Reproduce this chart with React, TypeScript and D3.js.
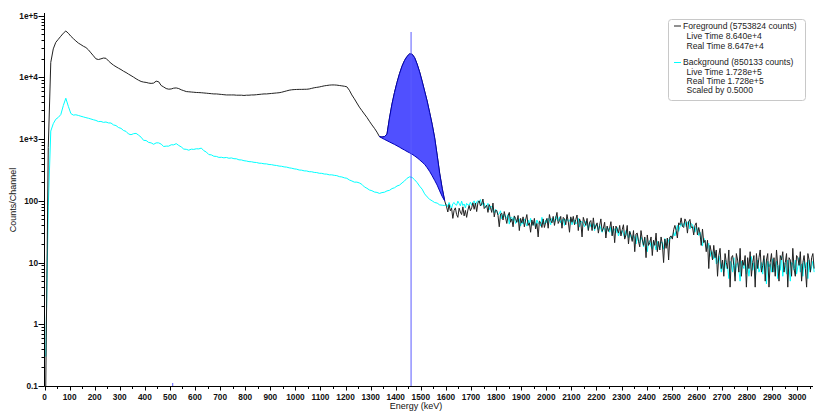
import React from 'react';
import * as d3 from 'd3';

// 0–1600 keV in 10 keV bins, 1600 keV onward in 5 keV bins
const LOW_BIN_KEV = 10;
const HIGH_BIN_KEV = 5;
const HIGH_START_KEV = 1600;

const foregroundLow = [
  0.1, 730, 17500, 29000, 37000, 41500, 46500, 52000, 56500, 52000,
  46500, 42500, 39000, 36000, 34000, 32000, 30500, 28000, 25000, 22400,
  20000, 19500, 20000, 20600, 20400, 18500, 17000, 15800, 14900, 14100,
  13400, 12600, 12000, 11300, 10700, 10100, 9500, 9000, 8600, 8400,
  8300, 8100, 8000, 8100, 8700, 8500, 7400, 7000, 6600, 6450,
  6500, 6700, 6750, 6600, 6300, 6100, 5900, 5850, 5800, 5750,
  5700, 5680, 5650, 5600, 5550, 5500, 5450, 5400, 5400, 5350,
  5300, 5250, 5200, 5200, 5200, 5200, 5150, 5150, 5150, 5100,
  5150, 5150, 5200, 5200, 5250, 5300, 5350, 5400, 5400, 5450,
  5500, 5550, 5600, 5650, 5750, 5900, 6050, 6200, 6300, 6350,
  6380, 6400, 6400, 6420, 6430, 6500, 6650, 6800, 6900, 7000,
  7150, 7300, 7400, 7500, 7550, 7550, 7500, 7400, 7300, 7200,
  7050, 6200, 5200, 4500, 3850, 3300, 2900, 2550, 2250, 1950,
  1700, 1500, 1300, 1100, 1080, 1100, 1200, 2200, 3700, 5700,
  8300, 11500, 15200, 18800, 21900, 24000, 23800, 21000, 16500, 12300,
  8700, 6000, 4150, 2700, 1740, 1050, 550, 280, 160, 100
];

const foregroundHigh = [
  80, 66, 87, 69, 76, 52, 70, 77, 60, 54, 76, 66, 60, 80, 57, 70, 54, 71, 84, 69,
  77, 93, 73, 92, 67, 93, 100, 83, 89, 107, 75, 80, 85, 65, 87, 78, 65, 92, 55, 70,
  70, 58, 38, 61, 63, 49, 67, 54, 43, 57, 65, 45, 51, 38, 57, 52, 45, 58, 33, 52,
  44, 55, 38, 49, 60, 40, 44, 31, 49, 40, 52, 35, 43, 26, 47, 45, 37, 51, 37, 45,
  52, 36, 60, 48, 44, 56, 40, 52, 65, 43, 48, 56, 36, 54, 51, 41, 60, 46, 31, 55,
  45, 56, 41, 50, 59, 33, 51, 45, 26, 54, 46, 40, 52, 33, 45, 48, 33, 53, 35, 39,
  44, 30, 40, 51, 32, 36, 45, 25, 39, 32, 36, 46, 27, 39, 21, 39, 35, 30, 40, 27,
  34, 41, 24, 28, 40, 20, 32, 28, 22, 33, 15, 29, 30, 22, 18, 33, 24, 19, 26, 12,
  28, 19, 21, 26, 13, 23, 19, 30, 15, 22, 16, 26, 20, 10, 24, 17, 25, 11, 26, 27,
  24, 34, 40, 33, 25, 44, 41, 53, 39, 37, 51, 46, 30, 46, 50, 37, 38, 28, 40, 44,
  28, 37, 30, 19, 35, 21, 23, 15, 23, 8, 19, 15, 11, 19, 12, 16, 6, 13, 17, 8,
  11, 6, 14, 10, 8, 16, 4, 12, 13, 9, 5, 14, 11, 7, 17, 6, 11, 9, 13, 4,
  12, 8, 15, 6, 10, 13, 4, 14, 8, 12, 16, 7, 9, 13, 5, 11, 14, 4, 10, 14,
  7, 12, 6, 16, 9, 5, 13, 11, 15, 7, 10, 14, 4, 12, 11, 6, 17, 8, 6, 13,
  12, 9, 15, 5, 10, 13, 8, 4, 14, 11, 7, 12, 14, 8
];

const backgroundLow = [
  0.3, 80, 1350, 1780, 2100, 2250, 2500, 3500, 4600, 3400,
  2600, 2450, 2480, 2420, 2350, 2290, 2230, 2180, 2120, 2060,
  2010, 1925, 1935, 1870, 1895, 1830, 1825, 1700, 1660, 1540,
  1495, 1380, 1335, 1210, 1180, 1225, 1240, 1160, 1075, 955,
  950, 885, 870, 825, 870, 870, 830, 760, 770, 770,
  810, 808, 845, 790, 748, 690, 684, 662, 688, 682,
  698, 695, 716, 650, 618, 562, 556, 528, 525, 506,
  508, 498, 505, 490, 496, 482, 480, 462, 460, 447,
  442, 432, 430, 421, 418, 408, 406, 398, 397, 388,
  386, 378, 374, 366, 363, 355, 352, 343, 338, 330,
  326, 316, 314, 306, 305, 297, 296, 289, 287, 280,
  279, 272, 271, 264, 264, 259, 256, 247, 244, 236,
  232, 218, 210, 201, 201, 195, 185, 168, 160, 150,
  146, 139, 137, 132, 136, 138, 145, 148, 158, 163,
  174, 180, 195, 210, 232, 245, 240, 220, 198, 173,
  155, 130, 116, 106, 100, 94, 92, 86, 85, 84
];

const backgroundHigh = [
  88, 80, 94, 83, 76, 90, 94, 87, 85, 99, 91, 83, 99, 84, 89, 77, 91, 86, 85, 95,
  85, 93, 100, 85, 96, 101, 92, 105, 84, 93, 92, 77, 83, 91, 72, 81, 81, 71, 64, 73,
  68, 60, 62, 69, 51, 59, 61, 53, 53, 60, 42, 54, 54, 47, 56, 43, 45, 50, 51, 39,
  47, 42, 51, 45, 39, 49, 42, 52, 40, 45, 46, 37, 49, 43, 45, 39, 54, 43, 42, 49,
  44, 52, 49, 41, 52, 47, 45, 56, 50, 47, 55, 44, 47, 51, 40, 50, 51, 46, 47, 53,
  41, 48, 49, 42, 45, 52, 38, 46, 46, 42, 38, 47, 42, 34, 45, 38, 39, 43, 33, 41,
  39, 34, 41, 35, 31, 37, 35, 29, 38, 35, 31, 38, 28, 35, 35, 30, 37, 27, 31, 30,
  33, 29, 25, 33, 29, 25, 32, 26, 23, 28, 25, 20, 28, 22, 21, 26, 23, 18, 25, 20,
  15, 21.5, 22.5, 18, 16.5, 23, 19.5, 16, 22, 18.5, 17.5, 21.5, 21, 16.5, 24.5, 20, 19, 23.5, 24, 26,
  25, 31, 27, 33, 40, 32, 38, 44, 38, 42, 46, 38, 44, 47, 35, 43, 41, 36, 31, 38,
  33, 27.5, 31, 26, 18.5, 25, 22.5, 18, 17, 20.5, 12.5, 15.5, 14.5, 11.5, 15, 9.5, 10, 13, 10.5, 7,
  10, 7, 11, 8, 8.5, 5.5, 10.5, 9.5, 7, 12, 6, 9, 10, 7.5, 5, 10.5, 9, 8, 11, 6.5,
  9.5, 6, 8.5, 12.5, 7.5, 10, 5.5, 8.5, 11, 7, 8, 10, 6.5, 11.5, 9, 4.5, 10.5, 8.5, 9.5, 7,
  11.5, 7, 8.5, 10.5, 5.5, 9, 7.5, 12.5, 6, 10, 9, 6.5, 11, 8, 5, 10, 9.5, 7.5, 11, 6.5,
  8.5, 12, 7, 9.5, 6, 10.5, 8, 10, 5.5, 11, 7, 8.5, 10.5, 7
];

// continuum under the 1461 keV peak, on the 10 keV bins starting at bin 133 (1335 keV)
const continuumStartBin = 133;
const continuumCounts = [
  1100, 1040, 990, 945, 900, 860, 820, 780, 740, 700,
  665, 630, 600, 570, 535, 500, 462, 425, 390, 345,
  300, 255, 215, 180, 145, 118, 100
];

const peakMarkerKeV = 1461;
const annihilationKeV = 511;

const yTickValues = [0.1, 1, 10, 100, 1000, 10000, 100000];
const yTickLabels = ['0.1', '1', '10', '100', '1e+3', '1e+4', '1e+5'];
const xTickValues = d3.range(0, 3001, 100);
const xMinorTickValues = d3.range(50, 3051, 100);

const legendForeground = ['Foreground (5753824 counts)', 'Live Time 8.640e+4', 'Real Time 8.647e+4'];
const legendBackground = ['Background (850133 counts)', 'Live Time 1.728e+5', 'Real Time 1.728e+5', 'Scaled by 0.5000'];

const FONT = '"Liberation Sans", Arial, sans-serif';

type P = [number, number];

function toPoints(low: number[], high: number[]): P[] {
  const a: P[] = low.map((v, i) => [i * LOW_BIN_KEV + LOW_BIN_KEV / 2, v]);
  const b: P[] = high.map((v, k) => [HIGH_START_KEV + k * HIGH_BIN_KEV + HIGH_BIN_KEV / 2, v]);
  return a.concat(b);
}

export default function App() {
  const W = 815;
  const H = 411;
  const x = d3.scaleLinear().domain([0, 3000]).range([44.5, 797.2]);
  const y = d3.scaleLog().domain([0.1, 1e5]).range([386, 15.7]).clamp(true);
  const axisX = 44.5;
  const axisY = 386.5;
  const xEnd = 813;

  const fg = toPoints(foregroundLow, foregroundHigh);
  const bg = toPoints(backgroundLow, backgroundHigh);
  const line = d3.line<P>().x(d => x(d[0])).y(d => y(d[1]));

  const peak = continuumCounts.map((b, k) => {
    const i = continuumStartBin + k;
    return { e: i * LOW_BIN_KEV + LOW_BIN_KEV / 2, b, f: foregroundLow[i] };
  });
  const area = d3.area<{ e: number; b: number; f: number }>()
    .x(d => x(d.e)).y0(d => y(d.b)).y1(d => y(d.f));

  const yMinor: number[] = [];
  for (let k = -1; k < 5; k++) {
    for (let m = 2; m <= 9; m++) yMinor.push(m * Math.pow(10, k));
  }

  const legX = 668;
  const legY = 19;

  return (
    <svg width={W} height={H} style={{ position: 'absolute', left: 0, top: 0, background: '#fff' }}
      fontFamily={FONT}>
      <rect x={0} y={0} width={W} height={H} fill="#fff" />
      <path d={line(bg) || ''} fill="none" stroke="#00ffff" strokeWidth={1} />
      <path d={line(fg) || ''} fill="none" stroke="#222" strokeWidth={1} />
      <path d={area(peak) || ''} fill="#5050ff" stroke="#0000b8" strokeWidth={1} strokeLinejoin="round" />
      <line x1={x(peakMarkerKeV)} x2={x(peakMarkerKeV)} y1={32} y2={axisY} stroke="#5b5bff" strokeWidth={1} />
      <line x1={x(annihilationKeV)} x2={x(annihilationKeV)} y1={383} y2={axisY} stroke="#5b5bff" strokeWidth={1} />

      <line x1={axisX} x2={axisX} y1={13} y2={axisY} stroke="#000" strokeWidth={1} />
      {yTickValues.map((v, i) => (
        <g key={'yt' + i}>
          <line x1={axisX - 6} x2={axisX} y1={Math.round(y(v)) + 0.5} y2={Math.round(y(v)) + 0.5} stroke="#000" />
          <text x={38} y={y(v) + 3} textAnchor="end" fontSize={8.3} fontWeight="bold" fill="#111">{yTickLabels[i]}</text>
        </g>
      ))}
      {yMinor.map((v, i) => (
        <line key={'ym' + i} x1={axisX - 3} x2={axisX} y1={Math.round(y(v)) + 0.5} y2={Math.round(y(v)) + 0.5} stroke="#000" />
      ))}
      <text transform={`translate(16,200) rotate(-90)`} textAnchor="middle" fontSize={9} fill="#111">Counts/Channel</text>

      <line x1={axisX} x2={xEnd} y1={axisY} y2={axisY} stroke="#000" strokeWidth={1} />
      {xTickValues.map((v, i) => (
        <g key={'xt' + i}>
          <line x1={Math.round(x(v)) + 0.5} x2={Math.round(x(v)) + 0.5} y1={axisY} y2={axisY + 4} stroke="#000" />
          <text x={x(v)} y={400} textAnchor="middle" fontSize={8.3} fontWeight="bold" fill="#111">{String(v)}</text>
        </g>
      ))}
      {xMinorTickValues.map((v, i) => (
        <line key={'xm' + i} x1={Math.round(x(v)) + 0.5} x2={Math.round(x(v)) + 0.5} y1={axisY} y2={axisY + 2.5} stroke="#000" />
      ))}
      <text x={416} y={409} textAnchor="middle" fontSize={9} fill="#111">Energy (keV)</text>

      <rect x={legX + 0.5} y={legY + 0.5} width={137} height={81} rx={3} fill="#fff" stroke="#c8c8c8" />
      <line x1={674} x2={681} y1={26} y2={26} stroke="#222" />
      <line x1={674} x2={681} y1={62.5} y2={62.5} stroke="#00ffff" />
      {legendForeground.map((t, i) => (
        <text key={'lf' + i} x={i === 0 ? 683 : 686.5} y={[28.8, 38.5, 48.5][i]} fontSize={8.6} fill="#222">{t}</text>
      ))}
      {legendBackground.map((t, i) => (
        <text key={'lb' + i} x={i === 0 ? 683 : 686.5} y={[65.2, 74.6, 84, 93.4][i]} fontSize={8.6} fill="#222">{t}</text>
      ))}
    </svg>
  );
}
